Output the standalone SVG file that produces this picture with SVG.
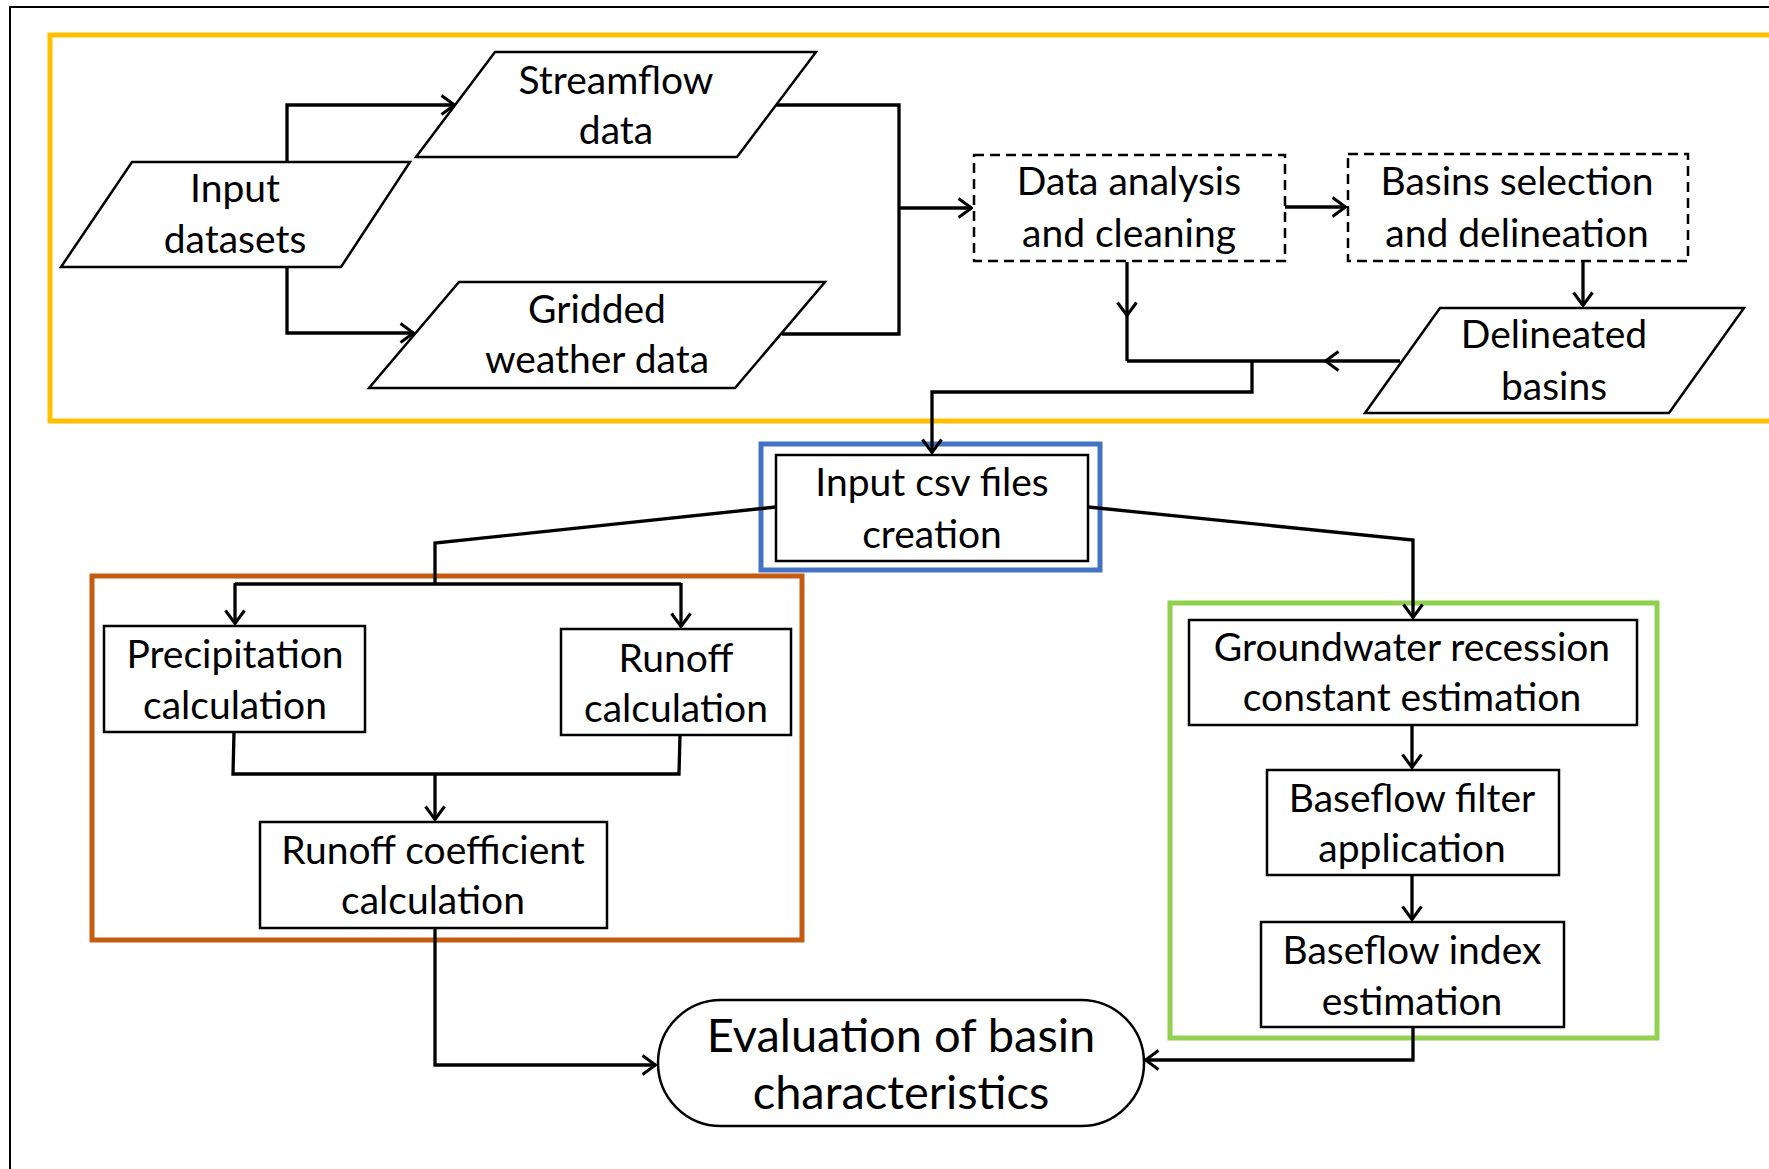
<svg xmlns="http://www.w3.org/2000/svg" width="1769" height="1169" viewBox="0 0 1769 1169">
<style>
.t{font-family:Lato,"Liberation Sans",sans-serif;font-size:39px;fill:#000;text-anchor:middle}
.big{font-size:47px}
.box{fill:#fff;stroke:#000;stroke-width:2.5}
.dash{fill:#fff;stroke:#000;stroke-width:2.5;stroke-dasharray:10 6}
.c{fill:none;stroke:#000;stroke-width:3.3}
.grp{fill:none;stroke-width:5}
</style>
<defs>
<marker id="a" viewBox="0 0 16 22" refX="15" refY="11" markerWidth="16" markerHeight="22" markerUnits="userSpaceOnUse" orient="auto">
<path d="M1.5,1.5 L14.5,11 L1.5,20.5" fill="none" stroke="#000" stroke-width="3"/>
</marker>
</defs>
<rect x="0" y="0" width="1769" height="1169" fill="#fff"/>
<rect x="10" y="7" width="1800" height="1200" fill="none" stroke="#000" stroke-width="2"/>
<g id="group-frames">
<rect x="50" y="35" width="1800" height="386" class="grp" stroke="#FFC000"/>
<rect x="761" y="444" width="339" height="126" class="grp" stroke="#4472C4"/>
<rect x="92" y="576" width="710" height="364" class="grp" stroke="#C55A11"/>
<rect x="1170" y="603" width="487" height="435" class="grp" stroke="#92D050"/>
</g>
<g id="connectors">
<path class="c" d="M287,162 V105 H455" marker-end="url(#a)"/>
<path class="c" d="M287,267 V333 H414" marker-end="url(#a)"/>
<path class="c" d="M776,105 H899 V334 H782"/>
<path class="c" d="M899,208 H972" marker-end="url(#a)"/>
<path class="c" d="M1285,207 H1346" marker-end="url(#a)"/>
<path class="c" d="M1583,261 V306" marker-end="url(#a)"/>
<path class="c" d="M1127,262 V316" marker-end="url(#a)"/>
<path class="c" d="M1127,314 V361"/>
<path class="c" d="M1400,361 H1325" marker-end="url(#a)"/>
<path class="c" d="M1327,361 H1127"/>
<path class="c" d="M1252,361 V392 H932 V453" marker-end="url(#a)"/>
<path class="c" d="M776,507 L435,543 V584"/>
<path class="c" d="M235,584 H681"/>
<path class="c" d="M235,583 V624" marker-end="url(#a)"/>
<path class="c" d="M681,583 V627" marker-end="url(#a)"/>
<path class="c" d="M1088,507 L1413,540 V618" marker-end="url(#a)"/>
<path class="c" d="M234,732 L233,774 H679 L680,735"/>
<path class="c" d="M435,774 V820" marker-end="url(#a)"/>
<path class="c" d="M435,928 V1065 H656" marker-end="url(#a)"/>
<path class="c" d="M1412,725 V768" marker-end="url(#a)"/>
<path class="c" d="M1412,875 V920" marker-end="url(#a)"/>
<path class="c" d="M1413,1027 V1060 H1145" marker-end="url(#a)"/>
</g>
<g id="input-datasets">
<polygon class="box" points="132,162 410,162 341,267 61,267"/>
<text class="t" x="235" y="202">Input</text>
<text class="t" x="235" y="253">datasets</text>
</g>
<g id="streamflow-data">
<polygon class="box" points="495,52 816,52 737,157 416,157"/>
<text class="t" x="616" y="94">Streamflow</text>
<text class="t" x="616" y="144">data</text>
</g>
<g id="gridded-weather-data">
<polygon class="box" points="459,282 825,282 735,388 369,388"/>
<text class="t" x="597" y="323">Gridded</text>
<text class="t" x="597" y="373">weather data</text>
</g>
<g id="data-analysis">
<rect class="dash" x="974" y="155" width="311" height="106"/>
<text class="t" x="1129" y="195">Data analysis</text>
<text class="t" x="1129" y="247">and cleaning</text>
</g>
<g id="basins-selection">
<rect class="dash" x="1348" y="154" width="340" height="107"/>
<text class="t" x="1517" y="195">Basins selection</text>
<text class="t" x="1517" y="247">and delineation</text>
</g>
<g id="delineated-basins">
<polygon class="box" points="1440,308 1744,308 1669,413 1365,413"/>
<text class="t" x="1554" y="348">Delineated</text>
<text class="t" x="1554" y="400">basins</text>
</g>
<g id="input-csv">
<rect class="box" x="776" y="455" width="312" height="106"/>
<text class="t" x="932" y="496">Input csv files</text>
<text class="t" x="932" y="548">creation</text>
</g>
<g id="precipitation">
<rect class="box" x="104" y="626" width="261" height="106"/>
<text class="t" x="235" y="668">Precipitation</text>
<text class="t" x="235" y="719">calculation</text>
</g>
<g id="runoff">
<rect class="box" x="561" y="629" width="230" height="106"/>
<text class="t" x="676" y="672">Runoff</text>
<text class="t" x="676" y="722">calculation</text>
</g>
<g id="runoff-coefficient">
<rect class="box" x="260" y="822" width="347" height="106"/>
<text class="t" x="433" y="864">Runoff coefficient</text>
<text class="t" x="433" y="914">calculation</text>
</g>
<g id="groundwater">
<rect class="box" x="1189" y="620" width="448" height="105"/>
<text class="t" x="1412" y="661">Groundwater recession</text>
<text class="t" x="1412" y="711">constant estimation</text>
</g>
<g id="baseflow-filter">
<rect class="box" x="1267" y="770" width="292" height="105"/>
<text class="t" x="1412" y="812">Baseflow filter</text>
<text class="t" x="1412" y="862">application</text>
</g>
<g id="baseflow-index">
<rect class="box" x="1261" y="922" width="303" height="105"/>
<text class="t" x="1412" y="964">Baseflow index</text>
<text class="t" x="1412" y="1015">estimation</text>
</g>
<g id="evaluation">
<rect class="box" x="658" y="1000" width="486" height="126" rx="63" ry="63"/>
<text class="t big" x="901" y="1052">Evaluation of basin</text>
<text class="t big" x="901" y="1109">characteristics</text>
</g>
</svg>
